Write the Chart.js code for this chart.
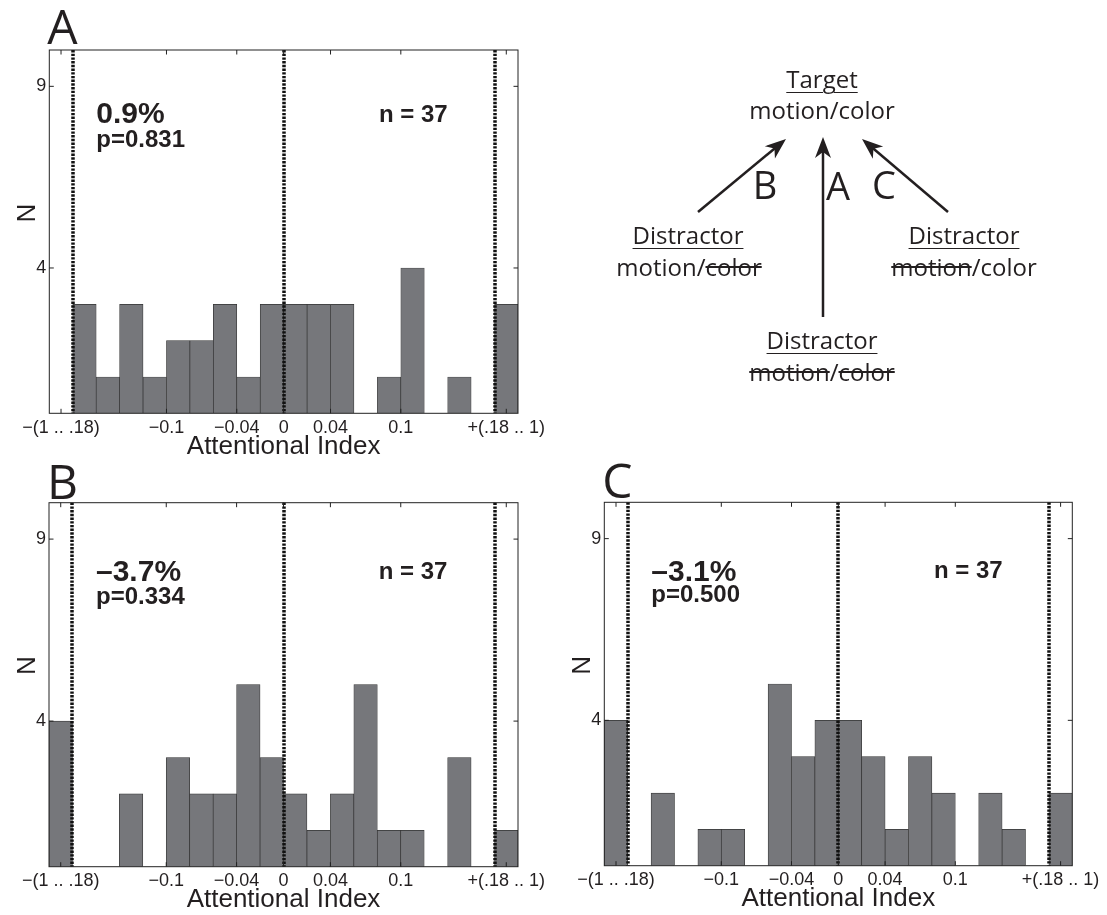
<!DOCTYPE html>
<html lang="en">
<head>
<meta charset="UTF-8" />
<title>Attentional Index</title>
<script src="https://cdn.jsdelivr.net/npm/chart.js"></script>
<style>
  body { margin: 0; width: 1107px; height: 915px; overflow: hidden; position: relative; background: #fff; }
  canvas { position: absolute; }
  #chartA { left: 0; top: 0; }
  #chartB { left: 0; top: 452px; }
  #chartC { left: 556px; top: 452px; }
  .dl {
    position: absolute;
    transform: translate(-50%, -50%);
    font-family: "Open Sans", sans-serif;
    font-size: 24px;
    line-height: 1;
    color: #231f20;
    white-space: nowrap;
  }
  .dl u { text-decoration-thickness: 1px; text-underline-offset: 4px; }
  .dl s { text-decoration-thickness: 1.5px; }
  .big { font-size: 38px; }
  #arrows { position: absolute; left: 0; top: 0; }
</style>
</head>
<body>
  <canvas id="chartA" width="560" height="470"></canvas>
  <canvas id="chartB" width="560" height="463"></canvas>
  <canvas id="chartC" width="551" height="463"></canvas>

  <svg id="arrows" width="1107" height="450"></svg>
  <div class="dl" style="left:822px;top:79px"><u>Target</u></div>
  <div class="dl" style="left:822px;top:110px">motion/color</div>
  <div class="dl big" style="left:765px;top:184px">B</div>
  <div class="dl big" style="left:838px;top:185px">A</div>
  <div class="dl big" style="left:884px;top:184px">C</div>
  <div class="dl" style="left:688px;top:235px"><u>Distractor</u></div>
  <div class="dl" style="left:689px;top:267px">motion/<s>color</s></div>
  <div class="dl" style="left:964px;top:235px"><u>Distractor</u></div>
  <div class="dl" style="left:964px;top:267px"><s>motion</s>/color</div>
  <div class="dl" style="left:822px;top:340px"><u>Distractor</u></div>
  <div class="dl" style="left:822px;top:372px"><s>motion</s>/<s>color</s></div>

<script>
  // histogram bins: 0.02 wide, outer bins collect -(1 .. .18) and +(.18 .. 1)
  const binCenters = [-0.19, -0.17, -0.15, -0.13, -0.11, -0.09, -0.07, -0.05, -0.03, -0.01,
                      0.01, 0.03, 0.05, 0.07, 0.09, 0.11, 0.13, 0.15, 0.17, 0.19];
  const countsA = [0, 3, 1, 3, 1, 2, 2, 3, 1, 3, 3, 3, 3, 0, 1, 4, 0, 1, 0, 3];
  const countsB = [4, 0, 0, 2, 0, 3, 2, 2, 5, 3, 2, 1, 2, 5, 1, 1, 0, 3, 0, 1];
  const countsC = [4, 0, 2, 0, 1, 1, 0, 5, 3, 4, 4, 3, 1, 3, 2, 0, 2, 1, 0, 2];

  const tickValues = [-0.19, -0.1, -0.04, 0, 0.04, 0.1, 0.19];
  const tickLabels = ['\u2212(1 .. .18)', '\u22120.1', '\u22120.04', '0', '0.04', '0.1', '+(.18 .. 1)'];
  const yTickValues = [4, 9];
  const cutoffLines = [-0.18, 0, 0.18];

  const panelLetters = ['A', 'B', 'C'];
  const meanLabels = ['0.9%', '\u20133.7%', '\u20133.1%'];
  const pLabels = ['p=0.831', 'p=0.334', 'p=0.500'];
  const nLabels = ['n = 37', 'n = 37', 'n = 37'];

  const arrows = [
    { from: [698, 212], to: [786, 139] },
    { from: [823, 317], to: [823, 137] },
    { from: [948, 212], to: [862, 139] }
  ];

  const AXIS_FONT = '"Liberation Sans", Arial, sans-serif';
  const INK = '#231f20';

  // arrows of the little diagram
  (function drawArrows() {
    const svg = document.getElementById('arrows');
    let html = '';
    arrows.forEach(a => {
      const [x1, y1] = a.from, [x2, y2] = a.to;
      const ang = Math.atan2(y2 - y1, x2 - x1);
      const c = Math.cos(ang), s = Math.sin(ang);
      const pt = (back, side) => [x2 - back * c - side * s, y2 - back * s + side * c];
      const e = pt(14, 0);
      html += `<line x1="${x1}" y1="${y1}" x2="${e[0]}" y2="${e[1]}" stroke="${INK}" stroke-width="2.5"/>`;
      const p1 = pt(21, 8), p2 = pt(15, 0), p3 = pt(21, -8);
      html += `<polygon points="${x2},${y2} ${p1} ${p2} ${p3}" fill="${INK}"/>`;
    });
    svg.innerHTML = html;
  })();

  const panelDeco = {
    id: 'panelDeco',
    afterDatasetsDraw(chart, args, opts) {
      const { ctx, chartArea: a, scales: { x, y } } = chart;
      ctx.save();
      // dotted cut-off lines
      ctx.strokeStyle = '#111';
      ctx.lineWidth = 3.5;
      ctx.setLineDash([2.4, 1.3]);
      cutoffLines.forEach(v => {
        const px = Math.round(x.getPixelForValue(v));
        ctx.beginPath();
        ctx.moveTo(px, a.top);
        ctx.lineTo(px, a.bottom);
        ctx.stroke();
      });
      ctx.setLineDash([]);
      // axes box with inward ticks
      ctx.strokeStyle = '#222';
      ctx.lineWidth = 1;
      ctx.strokeRect(a.left, a.top, a.right - a.left, a.bottom - a.top);
      const tl = 4.5;
      ctx.beginPath();
      tickValues.forEach(v => {
        const px = x.getPixelForValue(v);
        ctx.moveTo(px, a.bottom); ctx.lineTo(px, a.bottom - tl);
        ctx.moveTo(px, a.top); ctx.lineTo(px, a.top + tl);
      });
      yTickValues.forEach(v => {
        const py = y.getPixelForValue(v);
        ctx.moveTo(a.left, py); ctx.lineTo(a.left + tl, py);
        ctx.moveTo(a.right, py); ctx.lineTo(a.right - tl, py);
      });
      ctx.stroke();
      ctx.restore();
    },
    afterDraw(chart, args, opts) {
      const { ctx, chartArea: a } = chart;
      const i = opts.index;
      ctx.save();
      ctx.fillStyle = INK;
      // panel letter
      ctx.font = '48px "Open Sans", sans-serif';
      ctx.textAlign = 'left';
      ctx.textBaseline = 'alphabetic';
      ctx.fillText(panelLetters[i], a.left - 2, a.top - opts.letterGap);
      // stats
      ctx.font = 'bold 30px ' + AXIS_FONT;
      ctx.fillText(meanLabels[i], a.left + 47, a.top + opts.meanY);
      ctx.font = 'bold 24px ' + AXIS_FONT;
      ctx.fillText(pLabels[i], a.left + 47, a.top + opts.pY);
      ctx.textAlign = 'center';
      ctx.fillText(nLabels[i], a.left + 364, a.top + opts.nY);
      // y axis label
      ctx.font = '26px ' + AXIS_FONT;
      ctx.translate(a.left - 21, a.top + 163);
      ctx.rotate(-Math.PI / 2);
      ctx.textBaseline = 'middle';
      ctx.fillText('N', 0, 0);
      ctx.restore();
    }
  };

  function makeChart(id, counts, index, geom, deco) {
    const ctx = document.getElementById(id).getContext('2d');
    return new Chart(ctx, {
      type: 'bar',
      data: {
        datasets: [{
          data: binCenters.map((c, k) => ({ x: c, y: counts[k] })),
          backgroundColor: '#76777b',
          borderColor: '#333',
          borderWidth: 0.7,
          barPercentage: 1,
          categoryPercentage: 1
        }]
      },
      options: {
        responsive: false,
        animation: false,
        events: [],
        layout: { padding: { top: geom.top, right: geom.right, bottom: geom.bottom, left: 0 } },
        plugins: {
          legend: { display: false },
          tooltip: { enabled: false },
          panelDeco: Object.assign({ index }, deco)
        },
        scales: {
          x: {
            type: 'linear',
            min: -0.2,
            max: 0.2,
            offset: false,
            grid: { display: false, drawTicks: false, tickLength: 0 },
            border: { display: false },
            afterBuildTicks: s => { s.ticks = tickValues.map(v => ({ value: v })); },
            afterFit: s => { s.height = 47; s.paddingLeft = 0; s.paddingRight = 0; },
            ticks: {
              autoSkip: false,
              maxRotation: 0,
              minRotation: 0,
              padding: 4,
              color: INK,
              font: { family: AXIS_FONT, size: 18 },
              callback: (v, k) => tickLabels[k]
            },
            title: {
              display: true,
              text: 'Attentional Index',
              color: INK,
              font: { family: AXIS_FONT, size: 26 },
              padding: { top: 0, bottom: -2 }
            }
          },
          y: {
            min: 0,
            max: 10,
            grid: { display: false, drawTicks: false, tickLength: 0 },
            border: { display: false },
            afterBuildTicks: s => { s.ticks = yTickValues.map(v => ({ value: v })); },
            afterFit: s => { s.width = geom.left; s.paddingTop = 0; s.paddingBottom = 0; },
            ticks: {
              padding: 3,
              color: INK,
              font: { family: AXIS_FONT, size: 18 }
            }
          }
        }
      },
      plugins: [panelDeco]
    });
  }

  makeChart('chartA', countsA, 0,
    { left: 49.3, top: 50, right: 42, bottom: 470 - 413.3 - 47 },
    { letterGap: 6, meanY: 73, pY: 96.5, nY: 72 });
  makeChart('chartB', countsB, 1,
    { left: 49, top: 50.7, right: 42, bottom: 463 - 414.7 - 47 },
    { letterGap: 4, meanY: 78, pY: 101, nY: 76 });
  makeChart('chartC', countsC, 2,
    { left: 48.3, top: 50.3, right: 551 - 516.3, bottom: 463 - 413.7 - 47 },
    { letterGap: 4, meanY: 78.5, pY: 100, nY: 76 });
</script>
</body>
</html>
